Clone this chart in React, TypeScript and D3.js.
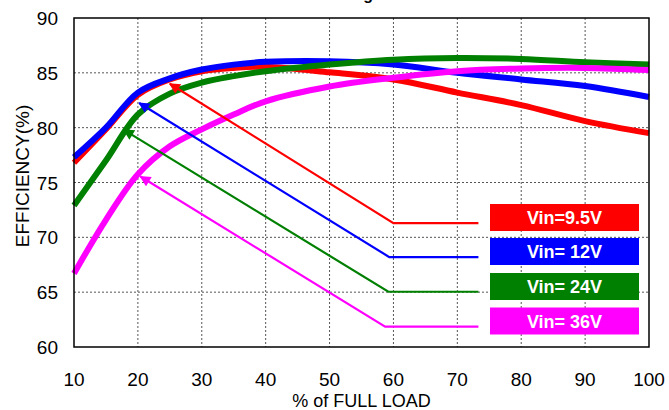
import React from "react";
import * as d3 from "d3";

const loads = [10, 15, 20, 25, 30, 35, 40, 50, 60, 70, 80, 90, 100];
const vin95 = [76.8, 79.85, 83.0, 84.4, 85.15, 85.45, 85.55, 85.05, 84.4, 83.2, 82.06, 80.6, 79.5];
const vin12 = [77.3, 80.0, 83.2, 84.5, 85.3, 85.75, 86.0, 86.06, 85.76, 85.0, 84.4, 83.8, 82.8];
const vin24 = [72.9, 77.0, 81.2, 83.1, 84.1, 84.7, 85.15, 85.76, 86.2, 86.36, 86.27, 85.97, 85.76];
const vin36 = [66.7, 71.6, 75.75, 78.3, 79.85, 81.2, 82.4, 83.75, 84.55, 85.15, 85.4, 85.45, 85.25];

const seriesNames = ["Vin=9.5V", "Vin= 12V", "Vin= 24V", "Vin= 36V"];
const seriesColors = ["#ff0000", "#0000ff", "#008000", "#ff00ff"];

// arrow callouts: [tip, corner, end] in data units
const arrow95 = [[25.0, 84.0], [60.0, 71.3], [73.3, 71.3]];
const arrow12 = [[20.2, 82.25], [59.35, 68.2], [73.3, 68.2]];
const arrow24 = [[17.8, 79.8], [59.2, 65.04], [73.3, 65.04]];
const arrow36 = [[20.4, 75.55], [58.7, 61.85], [73.3, 61.85]];

const xTicks = [10, 20, 30, 40, 50, 60, 70, 80, 90, 100];
const yTicks = [60, 65, 70, 75, 80, 85, 90];

export default function App() {
  const W = 669, H = 410;
  const L = 74, R = 649, T = 18, B = 347;
  const x = d3.scaleLinear().domain([10, 100]).range([L, R]);
  const y = d3.scaleLinear().domain([60, 90]).range([B, T]);

  const series = [vin95, vin12, vin24, vin36];
  const arrows = [arrow95, arrow12, arrow24, arrow36];

  const line = d3
    .line<number>()
    .x((_, i) => x(loads[i]))
    .y((d) => y(d))
    .curve(d3.curveCatmullRom.alpha(0.5));

  const arrowLine = d3
    .line<number[]>()
    .x((d) => x(d[0]))
    .y((d) => y(d[1]));

  const boxX = 490, boxW = 149, boxH = 27;
  const boxY = [204, 238, 273, 307.5];

  const font = "Arial, 'Liberation Sans', Helvetica, sans-serif";

  return (
    <svg
      width={W}
      height={H}
      style={{ position: "absolute", left: 0, top: 0, background: "#fff" }}
      fontFamily={font}
    >
      <rect x={0} y={0} width={W} height={H} fill="#fff" />
      <defs>
        {seriesColors.map((c, i) => (
          <marker
            key={i}
            id={`ah${i}`}
            viewBox="0 0 10 10"
            refX={9}
            refY={5}
            markerWidth={12}
            markerHeight={11}
            markerUnits="userSpaceOnUse"
            orient="auto-start-reverse"
          >
            <path d="M0,0 L10,5 L0,10 Z" fill={c} />
          </marker>
        ))}
      </defs>

      {/* title (clipped at top in the reference) */}
      <text x={373} y={-0.5} textAnchor="end" fontSize={16} fontWeight="bold" fill="#000">
        Loading
      </text>

      {/* grid */}
      {xTicks.slice(1, -1).map((t) => (
        <line key={"gx" + t} x1={x(t)} x2={x(t)} y1={T} y2={B} stroke="#555" strokeWidth={1} strokeDasharray="2,2" />
      ))}
      {yTicks.slice(1, -1).map((t) => (
        <line key={"gy" + t} x1={L} x2={R} y1={y(t)} y2={y(t)} stroke="#555" strokeWidth={1} strokeDasharray="2,2" />
      ))}

      {/* curves */}
      {series.map((s, i) => (
        <path key={"s" + i} d={line(s) || ""} fill="none" stroke={seriesColors[i]} strokeWidth={6} strokeLinejoin="round" />
      ))}

      {/* arrows */}
      {arrows.map((a, i) => (
        <path
          key={"a" + i}
          d={arrowLine(a) || ""}
          fill="none"
          stroke={seriesColors[i]}
          strokeWidth={2.2}
          markerStart={`url(#ah${i})`}
        />
      ))}

      {/* legend boxes */}
      {seriesNames.map((n, i) => (
        <g key={"lg" + i}>
          <rect x={boxX} y={boxY[i]} width={boxW} height={boxH} fill={seriesColors[i]} />
          <text
            x={boxX + boxW / 2}
            y={boxY[i] + boxH / 2 + 6.5}
            textAnchor="middle"
            fontSize={18}
            fontWeight="bold"
            fill="#fff"
          >
            {n}
          </text>
        </g>
      ))}

      {/* frame */}
      <rect x={L} y={T} width={R - L} height={B - T} fill="none" stroke="#000" strokeWidth={1.5} />

      {/* y ticks */}
      {yTicks.map((t) => (
        <text key={"yt" + t} x={58} y={y(t) + 7} textAnchor="end" fontSize={19} fill="#000">
          {t}
        </text>
      ))}
      {/* x ticks */}
      {xTicks.map((t) => (
        <text key={"xt" + t} x={x(t)} y={386} textAnchor="middle" fontSize={19} fill="#000">
          {t}
        </text>
      ))}

      <text x={(L + R) / 2} y={407} textAnchor="middle" fontSize={18} fill="#000">
        % of FULL LOAD
      </text>
      <text
        transform={`translate(29,176) rotate(-90)`}
        textAnchor="middle"
        fontSize={19}
        fill="#000"
      >
        EFFICIENCY(%)
      </text>
    </svg>
  );
}
